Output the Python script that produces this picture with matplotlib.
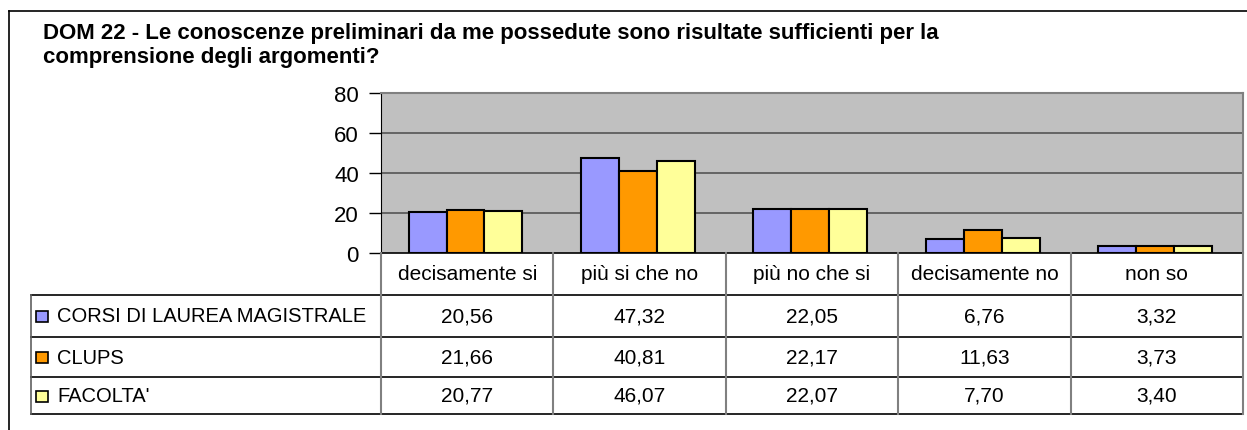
import matplotlib
matplotlib.use('Agg')
import matplotlib.pyplot as plt
from matplotlib.patches import Rectangle

plt.rcParams['font.family'] = ['Liberation Sans', 'DejaVu Sans']

title_lines = ['DOM 22 - Le conoscenze preliminari da me possedute sono risultate sufficienti per la',
               'comprensione degli argomenti?']
categories = ['decisamente si', 'più si che no', 'più no che si', 'decisamente no', 'non so']
series_names = ['CORSI DI LAUREA MAGISTRALE', 'CLUPS', "FACOLTA'"]
corsi = [20.56, 47.32, 22.05, 6.76, 3.32]
clups = [21.66, 40.81, 22.17, 11.63, 3.73]
facolta = [20.77, 46.07, 22.07, 7.70, 3.40]
colors = ['#9999ff', '#ff9900', '#ffff99']
yticks = [0, 20, 40, 60, 80]

W, H = 1247, 431
FS = 15
fig = plt.figure(figsize=(W / 100, H / 100), dpi=100)


def fx(x):
    return x / W


def fy(y):
    return 1 - y / H


# outer frame (right/bottom edges fall outside the picture)
fig.add_artist(plt.Line2D([fx(9), fx(9)], [fy(12), 0], color='black', lw=1.2))
fig.add_artist(plt.Line2D([fx(9), 1], [fy(12), fy(12)], color='black', lw=1.2))

fig.text(fx(43), fy(39), title_lines[0], fontsize=16, fontweight='bold', va='baseline')
fig.text(fx(43), fy(63), title_lines[1], fontsize=16, fontweight='bold', va='baseline')

left, right, top, bottom = 381, 1243, 94, 254
ax = fig.add_axes([fx(left), fy(bottom), fx(right - left), (bottom - top) / H])
ax.set_facecolor('#c0c0c0')
ax.set_xlim(-0.5, len(categories) - 0.5)
ax.set_ylim(0, 80)
ax.set_yticks(yticks)
ax.set_yticklabels([str(t) for t in yticks], fontsize=FS + 1)
ax.tick_params(axis='y', length=9, width=1, pad=7, direction='out')
ax.set_xticks([])
for t in yticks[1:-1]:
    ax.axhline(t, color='#555555', lw=1.2, zorder=1)
for s in ['top', 'right']:
    ax.spines[s].set_color('#808080')
    ax.spines[s].set_linewidth(1.5)
ax.spines['left'].set_color('black')
ax.spines['bottom'].set_color('black')
ax.spines['bottom'].set_linewidth(1.2)

bw = 0.22
series = [corsi, clups, facolta]
for i, vals in enumerate(series):
    xs = [k + (i - 1) * bw - 0.01 for k in range(len(categories))]
    ax.bar(xs, vals, width=bw, color=colors[i], edgecolor='black', linewidth=1.5, zorder=3)

# data table below the chart
row_y = [254, 296, 338, 378, 415]
col_w = (right - left) / len(categories)
tl = 31
for y in row_y[1:]:
    fig.add_artist(plt.Line2D([fx(tl), fx(right)], [fy(y), fy(y)], color='black', lw=1.2))
fig.add_artist(plt.Line2D([fx(tl), fx(tl)], [fy(row_y[1]), fy(row_y[-1])], color='#606060', lw=1.2))
for k in range(len(categories) + 1):
    x = left + k * col_w
    fig.add_artist(plt.Line2D([fx(x), fx(x)], [fy(row_y[0]), fy(row_y[-1])], color='#808080', lw=1.5))

for k, c in enumerate(categories):
    cx = left + (k + 0.5) * col_w
    fig.text(fx(cx), fy((row_y[0] + row_y[1]) / 2), c, fontsize=FS, ha='center', va='center')
    for r, vals in enumerate(series):
        fig.text(fx(cx), fy((row_y[r + 1] + row_y[r + 2]) / 2), f'{vals[k]:.2f}'.replace('.', ','),
                 fontsize=FS, ha='center', va='center')

for r, name in enumerate(series_names):
    cy = (row_y[r + 1] + row_y[r + 2]) / 2
    fig.add_artist(Rectangle((fx(36), fy(cy + 6)), 12 / W, 11 / H, facecolor=colors[r],
                             edgecolor='black', lw=1.2, transform=fig.transFigure))
    fig.text(fx(57), fy(cy), name, fontsize=FS - 0.5, ha='left', va='center')

fig.savefig('out.png', dpi=100)
